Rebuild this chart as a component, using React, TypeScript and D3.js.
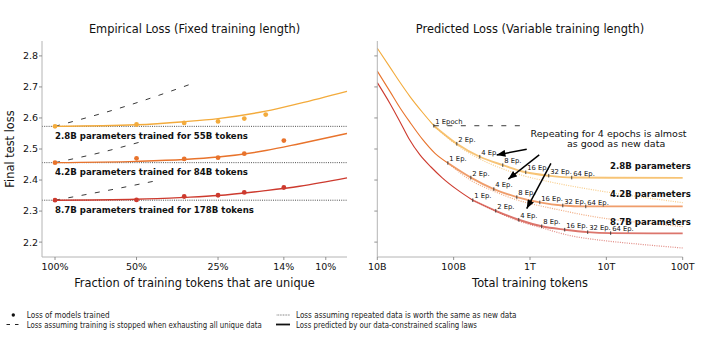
import React from "react";
import * as d3 from "d3";

// ---------------- data ----------------
const MODEL_NAMES = ["2.8B", "4.2B", "8.7B"];
const UNIQUE_TOKENS = [55e9, 84e9, 178e9];
const LEFT_LABELS = [
  "2.8B parameters trained for 55B tokens",
  "4.2B parameters trained for 84B tokens",
  "8.7B parameters trained for 178B tokens",
];
const RIGHT_LABELS = ["2.8B parameters", "4.2B parameters", "8.7B parameters"];

const Y_TICKS = [2.2, 2.3, 2.4, 2.5, 2.6, 2.7, 2.8];
const FRAC_TICKS = [1, 0.5, 0.25, 1 / 7, 0.1];
const FRAC_TICK_LABELS = ["100%", "50%", "25%", "14%", "10%"];
const TOKEN_TICKS = [1e10, 1e11, 1e12, 1e13, 1e14];
const TOKEN_TICK_LABELS = ["10B", "100B", "1T", "10T", "100T"];

// Left panel: measured points (fraction of unique tokens -> final loss)
const POINT_FRACS_28 = [1, 0.5, 1 / 3, 0.25, 0.2, 1 / 6];
const POINT_LOSS_28 = [2.573, 2.579, 2.584, 2.589, 2.598, 2.611];
const POINT_FRACS_42 = [1, 0.5, 1 / 3, 0.25, 0.2, 1 / 7];
const POINT_LOSS_42 = [2.456, 2.47, 2.468, 2.472, 2.485, 2.527];
const POINT_FRACS_87 = [1, 0.5, 1 / 3, 0.25, 0.2, 1 / 7];
const POINT_LOSS_87 = [2.335, 2.336, 2.347, 2.351, 2.36, 2.376];

// Left panel: fitted curves
const FIT_FRACS = [1, 0.5, 1 / 3, 0.25, 1 / 6, 0.125, 0.0835];
const FIT_LOSS_28 = [2.573, 2.578, 2.588, 2.598, 2.622, 2.647, 2.686];
const FIT_LOSS_42 = [2.456, 2.46, 2.466, 2.474, 2.495, 2.517, 2.55];
const FIT_LOSS_87 = [2.335, 2.338, 2.344, 2.35, 2.366, 2.38, 2.407];

// Left panel: loss if training stopped when unique data runs out
const STOP_FRACS_28 = [1, 0.547, 0.304];
const STOP_LOSS_28 = [2.573, 2.638, 2.714];
const STOP_FRACS_42 = [1, 0.682, 0.478];
const STOP_LOSS_42 = [2.456, 2.488, 2.524];
const STOP_FRACS_87 = [1, 0.609, 0.427];
const STOP_LOSS_87 = [2.335, 2.37, 2.397];

// Right panel: curve up to one epoch (tokens -> loss)
const PRE_TOKENS_28 = [1e10, 1.47e10, 1.98e10, 2.68e10, 3.85e10, 5.5e10];
const PRE_LOSS_28 = [2.825, 2.763, 2.715, 2.669, 2.62, 2.575];
const PRE_TOKENS_42 = [1e10, 1.47e10, 1.98e10, 2.68e10, 3.94e10, 5.7e10, 8.4e10];
const PRE_LOSS_42 = [2.751, 2.685, 2.633, 2.586, 2.53, 2.486, 2.455];
const PRE_TOKENS_87 = [1e10, 1.47e10, 1.98e10, 2.6e10, 3.62e10, 5.05e10, 7.03e10, 1.11e11, 1.78e11];
const PRE_LOSS_87 = [2.714, 2.646, 2.588, 2.533, 2.481, 2.442, 2.408, 2.369, 2.335];

// Right panel: data-constrained prediction at 1,2,4,...,64 epochs, then plateau at 100T
const EPOCHS = [1, 2, 4, 8, 16, 32, 64];
const EPOCH_LOSS_28 = [2.575, 2.517, 2.475, 2.448, 2.425, 2.414, 2.408];
const EPOCH_LOSS_42 = [2.455, 2.408, 2.371, 2.345, 2.328, 2.318, 2.315];
const EPOCH_LOSS_87 = [2.335, 2.301, 2.272, 2.251, 2.24, 2.232, 2.229];
const PLATEAU_LOSS = [2.407, 2.315, 2.228];

// Right panel: loss if repeated data were worth the same as new data
const REP_TOKENS_28 = [5.5e10, 1.1e11, 2.2e11, 4.4e11, 8.8e11, 2e12, 5.5e12, 1.5e13, 4.1e13, 1e14];
const REP_LOSS_28 = [2.575, 2.513, 2.468, 2.436, 2.412, 2.392, 2.372, 2.355, 2.34, 2.327];
const REP_TOKENS_42 = [8.4e10, 1.68e11, 3.36e11, 6.72e11, 1.34e12, 2e12, 5.5e12, 1.5e13, 4.1e13, 1e14];
const REP_LOSS_42 = [2.455, 2.399, 2.364, 2.336, 2.317, 2.308, 2.286, 2.27, 2.259, 2.25];
const REP_TOKENS_87 = [1.78e11, 3.56e11, 7.12e11, 1.42e12, 3.34e12, 9.1e12, 2.5e13, 1e14];
const REP_LOSS_87 = [2.335, 2.299, 2.268, 2.246, 2.221, 2.205, 2.194, 2.181];

// Right panel: dashed "stop at 1 epoch" line for 2.8B
const STOP_RIGHT_TOKENS = [5.5e10, 8.1e11];
const STOP_RIGHT_LOSS = [2.575, 2.575];

// Annotation arrows (tokens, loss) from -> to
const ARROW_FROM_TOKENS = [9.06e11, 1.32e12, 1.88e12];
const ARROW_FROM_LOSS = [2.499, 2.481, 2.454];
const ARROW_TO_TOKENS = [3.66e11, 5.2e11, 9.06e11];
const ARROW_TO_LOSS = [2.481, 2.403, 2.308];
const NOTE_LINES = ["Repeating for 4 epochs is almost", "as good as new data"];
const NOTE_TOKENS = [1.07e13, 1.34e13];
const NOTE_LOSS = [2.551, 2.517];
const RIGHT_LABEL_TOKENS = 1.28e14;
const RIGHT_LABEL_LOSS = [2.446, 2.354, 2.266];
const LEFT_LABEL_LOSS = [2.542, 2.425, 2.305];

const LEGEND_TEXTS = [
  "Loss of models trained",
  "Loss assuming training is stopped when exhausting all unique data",
  "Loss assuming repeated data is worth the same as new data",
  "Loss predicted by our data-constrained scaling laws",
];

// ---------------- styles ----------------
const COLORS = ["#f3ab3c", "#e8732c", "#cd3a2e"];
const FONT = "'DejaVu Sans', sans-serif";
const LEGEND_FONT = "'DejaVu Sans', sans-serif";
const LEGEND_WIDTHS = [83, 235, 220.5, 181];
const AXIS_COLOR = "#b4b4b4";

const zip = (xs: number[], ys: number[]) => xs.map((x, i) => [x, ys[i]] as [number, number]);

export default function App() {
  const y = d3.scaleLinear().domain([2.152, 2.848]).range([257, 41]);
  const xL = d3.scaleLog().domain([1.117, 0.0835]).range([42, 347]);
  const xR = d3.scaleLog().domain([1e10, 1e14]).range([377.3, 682.7]);

  const lineL = d3
    .line<[number, number]>()
    .x((d) => xL(d[0]))
    .y((d) => y(d[1]))
    .curve(d3.curveMonotoneX);
  const lineR = d3
    .line<[number, number]>()
    .x((d) => xR(d[0]))
    .y((d) => y(d[1]))
    .curve(d3.curveMonotoneX);

  const points = [
    zip(POINT_FRACS_28, POINT_LOSS_28),
    zip(POINT_FRACS_42, POINT_LOSS_42),
    zip(POINT_FRACS_87, POINT_LOSS_87),
  ];
  const fits = [zip(FIT_FRACS, FIT_LOSS_28), zip(FIT_FRACS, FIT_LOSS_42), zip(FIT_FRACS, FIT_LOSS_87)];
  const stops = [
    zip(STOP_FRACS_28, STOP_LOSS_28),
    zip(STOP_FRACS_42, STOP_LOSS_42),
    zip(STOP_FRACS_87, STOP_LOSS_87),
  ];
  const pre = [zip(PRE_TOKENS_28, PRE_LOSS_28), zip(PRE_TOKENS_42, PRE_LOSS_42), zip(PRE_TOKENS_87, PRE_LOSS_87)];
  const epochLoss = [EPOCH_LOSS_28, EPOCH_LOSS_42, EPOCH_LOSS_87];
  const post = epochLoss.map((ls, m) => {
    const pts = EPOCHS.map((e, i) => [UNIQUE_TOKENS[m] * e, ls[i]] as [number, number]);
    pts.push([1e14, PLATEAU_LOSS[m]]);
    return pts;
  });
  const rep = [zip(REP_TOKENS_28, REP_LOSS_28), zip(REP_TOKENS_42, REP_LOSS_42), zip(REP_TOKENS_87, REP_LOSS_87)];

  const yAxisL = 42;
  const yAxisR = 377.3;
  const bottom = 257;
  const top = 41;

  return (
    <svg
      width={712}
      height={340}
      style={{ position: "absolute", left: 0, top: 0, background: "#fff" }}
      fontFamily={FONT}
    >
      <defs>
        <marker
          id="ah"
          viewBox="0 0 10 8"
          refX="10"
          refY="4"
          markerWidth="9"
          markerHeight="7"
          markerUnits="userSpaceOnUse"
          orient="auto"
        >
          <path d="M0,0 L10,4 L0,8 z" fill="#000" />
        </marker>
      </defs>
      <rect x={0} y={0} width={712} height={340} fill="#fff" />

      {/* ---------- Left panel ---------- */}
      <text x={(42 + 347) / 2} y={33.3} fontSize={11.4} textAnchor="middle" fill="#111">
        Empirical Loss (Fixed training length)
      </text>
      {points.map((p, m) => (
        <line
          key={"hb" + m}
          x1={42}
          x2={347}
          y1={y(p[0][1])}
          y2={y(p[0][1])}
          stroke="#222"
          strokeWidth={0.8}
          strokeDasharray="1,1.2"
        />
      ))}
      {stops.map((s, m) => (
        <path
          key={"st" + m}
          d={lineL(s) || ""}
          fill="none"
          stroke="#222"
          strokeWidth={0.9}
          strokeDasharray="5,8.5"
        />
      ))}
      {fits.map((f, m) => (
        <path key={"fit" + m} d={lineL(f) || ""} fill="none" stroke={COLORS[m]} strokeWidth={1.4} />
      ))}
      {points.map((p, m) =>
        p.map((d, i) => <circle key={"pt" + m + "-" + i} cx={xL(d[0])} cy={y(d[1])} r={2.4} fill={COLORS[m]} />)
      )}
      {LEFT_LABELS.map((t, m) => (
        <text
          key={"ll" + m}
          x={xL(1)}
          y={y(LEFT_LABEL_LOSS[m]) + 3}
          fontSize={8.6}
          fontWeight="bold"
          fill="#111"
        >
          {t}
        </text>
      ))}
      <line x1={yAxisL} x2={yAxisL} y1={top} y2={bottom} stroke={AXIS_COLOR} strokeWidth={1} />
      <line x1={yAxisL} x2={347} y1={bottom} y2={bottom} stroke={AXIS_COLOR} strokeWidth={1} />
      {Y_TICKS.map((t) => (
        <g key={"ytl" + t}>
          <line x1={yAxisL - 3} x2={yAxisL} y1={y(t)} y2={y(t)} stroke="#777" strokeWidth={0.8} />
          <text x={yAxisL - 4} y={y(t) + 3.4} fontSize={9.5} textAnchor="end" fill="#111">
            {t.toFixed(1)}
          </text>
        </g>
      ))}
      {FRAC_TICKS.map((t, i) => (
        <g key={"xtl" + i}>
          <line x1={xL(t)} x2={xL(t)} y1={bottom} y2={bottom + 3} stroke="#777" strokeWidth={0.8} />
          <text x={xL(t)} y={269.8} fontSize={9.5} textAnchor="middle" fill="#111">
            {FRAC_TICK_LABELS[i]}
          </text>
        </g>
      ))}
      <text x={(42 + 347) / 2} y={287.3} fontSize={11.4} textAnchor="middle" fill="#111">
        Fraction of training tokens that are unique
      </text>
      <text
        transform={`translate(14,${(top + bottom) / 2}) rotate(-90)`}
        fontSize={11.4}
        textAnchor="middle"
        fill="#111"
      >
        Final test loss
      </text>

      {/* ---------- Right panel ---------- */}
      <text x={(377.3 + 682.7) / 2} y={33.3} fontSize={11.4} textAnchor="middle" fill="#111">
        Predicted Loss (Variable training length)
      </text>
      {rep.map((r, m) => (
        <path
          key={"rep" + m}
          d={lineR(r) || ""}
          fill="none"
          stroke={COLORS[m]}
          strokeOpacity={0.6}
          strokeWidth={1.2}
          strokeDasharray="1,1.3"
        />
      ))}
      {post.map((p, m) => (
        <path
          key={"post" + m}
          d={lineR(p) || ""}
          fill="none"
          stroke={COLORS[m]}
          strokeOpacity={0.7}
          strokeWidth={1.9}
        />
      ))}
      {pre.map((p, m) => (
        <path key={"pre" + m} d={lineR(p) || ""} fill="none" stroke={COLORS[m]} strokeWidth={1.1} />
      ))}
      <path
        d={lineR(zip(STOP_RIGHT_TOKENS, STOP_RIGHT_LOSS)) || ""}
        fill="none"
        stroke="#222"
        strokeWidth={0.9}
        strokeDasharray="5,8.5"
      />
      {epochLoss.map((ls, m) =>
        EPOCHS.map((e, i) => {
          const px = xR(UNIQUE_TOKENS[m] * e);
          const py = y(ls[i]);
          const label = e === 1 ? (m === 0 ? "1 Epoch" : "1 Ep.") : `${e} Ep.`;
          return (
            <g key={"ep" + m + "-" + i}>
              <line x1={px} x2={px} y1={py - 1.8} y2={py + 1.8} stroke="#333" strokeWidth={0.9} />
              <text x={px + 1.5} y={py - 1.8} fontSize={6.8} fill="#111">
                {label}
              </text>
            </g>
          );
        })
      )}
      {ARROW_FROM_TOKENS.map((t, i) => (
        <line
          key={"ar" + i}
          x1={xR(t)}
          y1={y(ARROW_FROM_LOSS[i])}
          x2={xR(ARROW_TO_TOKENS[i])}
          y2={y(ARROW_TO_LOSS[i])}
          stroke="#000"
          strokeWidth={1.5}
          markerEnd="url(#ah)"
        />
      ))}
      {NOTE_LINES.map((t, i) => (
        <text
          key={"note" + i}
          x={xR(NOTE_TOKENS[i])}
          y={y(NOTE_LOSS[i]) + 3.4}
          fontSize={9.5}
          textAnchor="middle"
          fill="#111"
        >
          {t}
        </text>
      ))}
      {RIGHT_LABELS.map((t, m) => (
        <text
          key={"rl" + m}
          x={xR(RIGHT_LABEL_TOKENS)}
          y={y(RIGHT_LABEL_LOSS[m]) + 3.1}
          fontSize={8.6}
          fontWeight="bold"
          textAnchor="end"
          fill="#111"
        >
          {t}
        </text>
      ))}
      <line x1={yAxisR} x2={yAxisR} y1={top} y2={bottom} stroke={AXIS_COLOR} strokeWidth={1} />
      <line x1={yAxisR} x2={682.7} y1={bottom} y2={bottom} stroke={AXIS_COLOR} strokeWidth={1} />
      {Y_TICKS.map((t) => (
        <line key={"ytr" + t} x1={yAxisR - 3} x2={yAxisR} y1={y(t)} y2={y(t)} stroke="#777" strokeWidth={0.8} />
      ))}
      {TOKEN_TICKS.map((t, i) => (
        <g key={"xtr" + i}>
          <line x1={xR(t)} x2={xR(t)} y1={bottom} y2={bottom + 3} stroke="#777" strokeWidth={0.8} />
          <text x={xR(t)} y={269.8} fontSize={9.5} textAnchor="middle" fill="#111">
            {TOKEN_TICK_LABELS[i]}
          </text>
        </g>
      ))}
      <text x={(377.3 + 682.7) / 2} y={287.3} fontSize={11.4} textAnchor="middle" fill="#111">
        Total training tokens
      </text>

      {/* ---------- Legend ---------- */}
      <g fontFamily={LEGEND_FONT} fontSize={8.6} fill="#222">
        <circle cx={13.3} cy={315} r={1.7} fill="#111" />
        <text x={26.7} y={318} textLength={LEGEND_WIDTHS[0]} lengthAdjust="spacingAndGlyphs">
          {LEGEND_TEXTS[0]}
        </text>
        <line x1={6.5} x2={10} y1={324.5} y2={324.5} stroke="#222" strokeWidth={1} />
        <line x1={15} x2={18.5} y1={324.5} y2={324.5} stroke="#222" strokeWidth={1} />
        <text x={26.7} y={327.5} textLength={LEGEND_WIDTHS[1]} lengthAdjust="spacingAndGlyphs">
          {LEGEND_TEXTS[1]}
        </text>
        <line x1={276.7} x2={290} y1={315} y2={315} stroke="#444" strokeWidth={0.8} strokeDasharray="0.8,0.8" />
        <text x={296} y={318} textLength={LEGEND_WIDTHS[2]} lengthAdjust="spacingAndGlyphs">
          {LEGEND_TEXTS[2]}
        </text>
        <line x1={276} x2={290} y1={324.5} y2={324.5} stroke="#111" strokeWidth={1.8} />
        <text x={296} y={327.5} textLength={LEGEND_WIDTHS[3]} lengthAdjust="spacingAndGlyphs">
          {LEGEND_TEXTS[3]}
        </text>
      </g>
    </svg>
  );
}
